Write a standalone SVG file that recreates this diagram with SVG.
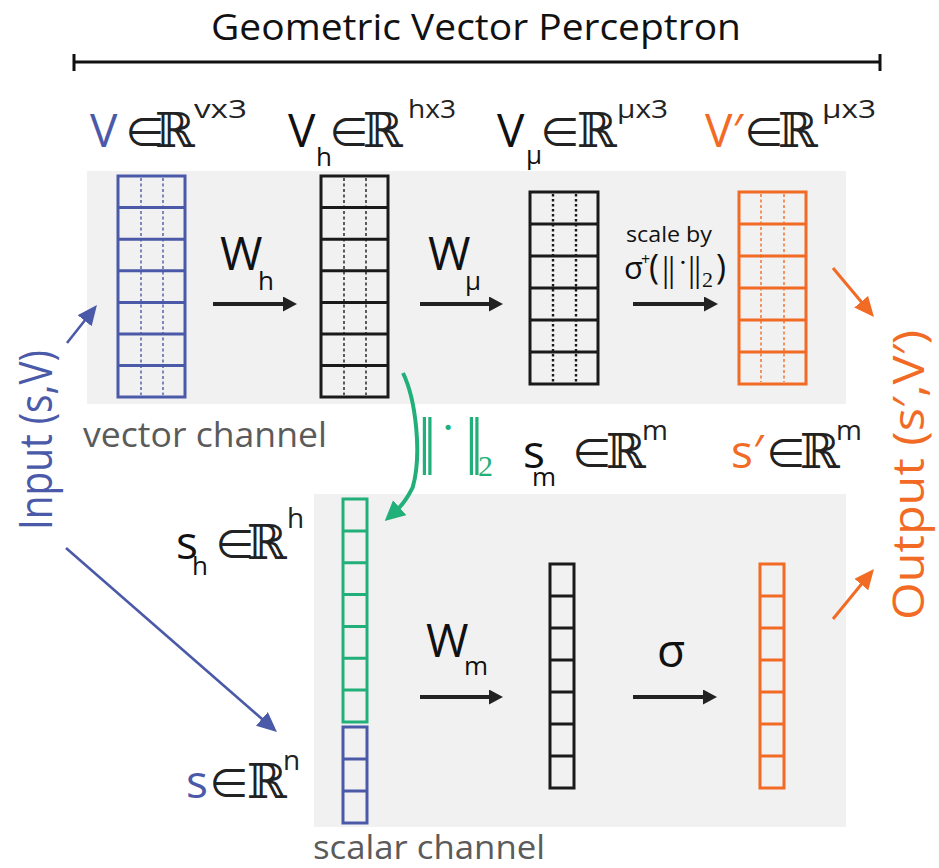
<svg xmlns="http://www.w3.org/2000/svg" width="939" height="868" viewBox="0 0 939 868">
<defs>
<style>
.t{font-family:"Open Sans","Liberation Sans",sans-serif;}
.m{font-family:"Liberation Serif","DejaVu Serif",serif;}
.r{font-family:"DejaVu Serif","Liberation Serif",serif;}
.e{font-family:"Noto Sans CJK JP","DejaVu Sans",sans-serif;font-size:42px;fill:#222;}
.bg{fill:#f1f1f1;}
.ln{fill:none;stroke-width:3;}
.dot{fill:none;stroke-width:1.4;stroke-dasharray:3 2.5;}
.dotb{fill:none;stroke-width:2.4;stroke-dasharray:2.5 2.5;}
.blue{stroke:#4b5aa8;}
.blk{stroke:#1a1a1a;}
.org{stroke:#f26b25;}
.grn{stroke:#22b07a;}
.big{font-size:46px;}
.sup{font-size:26px;}
.arr{fill:none;stroke:#222;stroke-width:4;marker-end:url(#ab);}
</style>
<marker id="ab" markerUnits="userSpaceOnUse" markerWidth="16" markerHeight="16" viewBox="0 0 16 16" refX="4" refY="7.5" orient="auto"><path d="M0,0 L14,7.5 L0,15 Z" fill="#222"/></marker>
<marker id="abl" markerUnits="userSpaceOnUse" markerWidth="22" markerHeight="20" viewBox="0 0 22 20" refX="6" refY="9" orient="auto"><path d="M0,0 L20,9 L0,18 Z" fill="#4b5aa8"/></marker>
<marker id="aor" markerUnits="userSpaceOnUse" markerWidth="22" markerHeight="20" viewBox="0 0 22 20" refX="6" refY="9" orient="auto"><path d="M0,0 L20,9 L0,18 Z" fill="#f26b25"/></marker>
<marker id="agr" markerUnits="userSpaceOnUse" markerWidth="22" markerHeight="22" viewBox="0 0 22 22" refX="6" refY="10" orient="auto"><path d="M0,0 L20,10 L0,20 Z" fill="#22b07a"/></marker>
</defs>
<rect width="939" height="868" fill="#ffffff"/>

<g id="title">
<text class="t" x="476" y="40" font-size="37" text-anchor="middle" fill="#111" textLength="530" lengthAdjust="spacingAndGlyphs">Geometric Vector Perceptron</text>
<path d="M74,62 H880 M74,54 V71 M880,54 V71" stroke="#111" stroke-width="3" fill="none"/>
</g>

<g id="panels">
<rect class="bg" x="87" y="171" width="759" height="233"/>
<rect class="bg" x="314" y="494" width="532" height="333"/>
<text class="t" x="83" y="447" font-size="34" fill="#5b5b5b" textLength="244" lengthAdjust="spacingAndGlyphs">vector channel</text>
<text class="t" x="313" y="859" font-size="32" fill="#5b5b5b" textLength="232" lengthAdjust="spacingAndGlyphs">scalar channel</text>
</g>

<g id="V">
<rect class="ln blue" x="118" y="176" width="67" height="221"/>
<path class="ln blue" d="M118,207.6H185M118,239.2H185M118,270.8H185M118,302.4H185M118,334H185M118,365.6H185"/>
<path class="dot blue" d="M141,178V395M163,178V395"/>
<text x="90" y="147" class="t big" fill="#4b5aa8">V</text>
<text x="124" y="148" class="e">∈</text>
<text x="155" y="147" class="r" font-size="48" fill="#222">ℝ</text>
<text x="194" y="118" class="t sup" fill="#222" textLength="53" lengthAdjust="spacingAndGlyphs">vx3</text>
</g>

<g id="Vh">
<rect class="ln blk" x="321" y="176" width="67" height="221"/>
<path class="ln blk" d="M321,207.6H388M321,239.2H388M321,270.8H388M321,302.4H388M321,334H388M321,365.6H388"/>
<path class="dot blk" d="M344,178V395M366,178V395"/>
<text x="288" y="147" class="t big" fill="#111">V</text>
<text x="316" y="166" class="t sup" fill="#111">h</text>
<text x="328" y="148" class="e">∈</text>
<text x="363" y="147" class="r" font-size="48" fill="#222">ℝ</text>
<text x="408" y="118" class="t sup" fill="#222" textLength="48" lengthAdjust="spacingAndGlyphs">hx3</text>
</g>

<g id="Vmu">
<rect class="ln blk" x="530" y="192" width="68" height="192"/>
<path class="ln blk" d="M530,224H598M530,256H598M530,288H598M530,320H598M530,352H598"/>
<path class="dotb blk" d="M553,194V382M576,194V382"/>
<text x="497" y="147" class="t big" fill="#111">V</text>
<text x="526" y="164" class="t sup" fill="#111">μ</text>
<text x="539" y="148" class="e">∈</text>
<text x="577" y="147" class="r" font-size="48" fill="#222">ℝ</text>
<text x="617" y="118" class="t sup" fill="#222" textLength="51" lengthAdjust="spacingAndGlyphs">μx3</text>
</g>

<g id="Vprime">
<rect class="ln org" x="739" y="192" width="67" height="192"/>
<path class="ln org" d="M739,224H806M739,256H806M739,288H806M739,320H806M739,352H806"/>
<path class="dot org" d="M761,194V382M784,194V382"/>
<text x="705" y="147" class="t big" fill="#f26b25">V′</text>
<text x="743" y="148" class="e">∈</text>
<text x="778" y="147" class="r" font-size="48" fill="#222">ℝ</text>
<text x="822" y="118" class="t sup" fill="#222" textLength="54" lengthAdjust="spacingAndGlyphs">μx3</text>
</g>

<g id="sh">
<rect class="ln grn" x="343" y="499" width="24" height="223"/>
<path class="ln grn" d="M343,530.9H367M343,562.7H367M343,594.6H367M343,626.4H367M343,658.3H367M343,690.1H367"/>
<text x="176" y="559" class="t big" fill="#111">s</text>
<text x="192" y="575" class="t sup" fill="#111">h</text>
<text x="214" y="560" class="e">∈</text>
<text x="247" y="559" class="r" font-size="48" fill="#222">ℝ</text>
<text x="287" y="528" class="t" font-size="28" fill="#222">h</text>
</g>

<g id="s">
<rect class="ln blue" x="343" y="727" width="24" height="96"/>
<path class="ln blue" d="M343,759H367M343,791H367"/>
<text x="186" y="798" class="t big" fill="#4b5aa8">s</text>
<text x="208" y="799" class="e">∈</text>
<text x="247" y="798" class="r" font-size="48" fill="#222">ℝ</text>
<text x="283" y="770" class="t" font-size="28" fill="#222">n</text>
</g>

<g id="sm">
<rect class="ln blk" x="550" y="564" width="24" height="224"/>
<path class="ln blk" d="M550,596H574M550,628H574M550,660H574M550,692H574M550,724H574M550,756H574"/>
<text x="523" y="468" class="t big" fill="#111">s</text>
<text x="532" y="486" class="t sup" fill="#111">m</text>
<text x="571" y="469" class="e">∈</text>
<text x="606" y="468" class="r" font-size="48" fill="#222">ℝ</text>
<text x="642" y="440" class="t" font-size="28" fill="#222">m</text>
</g>

<g id="sprime">
<rect class="ln org" x="760" y="564" width="24" height="224"/>
<path class="ln org" d="M760,596H784M760,628H784M760,660H784M760,692H784M760,724H784M760,756H784"/>
<text x="731" y="468" class="t big" fill="#f26b25">s′</text>
<text x="765" y="469" class="e">∈</text>
<text x="800" y="468" class="r" font-size="48" fill="#222">ℝ</text>
<text x="836" y="440" class="t" font-size="28" fill="#222">m</text>
</g>

<g id="input">
<text class="t" transform="translate(52,440) rotate(-90)" font-size="46" text-anchor="middle" fill="#4b5aa8" textLength="180" lengthAdjust="spacingAndGlyphs">Input (s,V)</text>
</g>
<g id="output">
<text class="t" transform="translate(924,475) rotate(-90)" font-size="43" text-anchor="middle" fill="#f26b25" textLength="290" lengthAdjust="spacingAndGlyphs">Output (s′,V′)</text>
</g>

<g id="connectors">
<line class="arr" x1="213" y1="304" x2="287" y2="304"/>
<line class="arr" x1="420" y1="304" x2="493" y2="304"/>
<line class="arr" x1="633" y1="304" x2="708" y2="304"/>
<line class="arr" x1="420" y1="697" x2="493" y2="697"/>
<line class="arr" x1="633" y1="697" x2="707" y2="697"/>
<line x1="67" y1="343" x2="88.3" y2="316" stroke="#4b5aa8" stroke-width="2.6" marker-end="url(#abl)"/>
<line x1="66" y1="548" x2="266.4" y2="722.8" stroke="#4b5aa8" stroke-width="2.6" marker-end="url(#abl)"/>
<line x1="833" y1="268" x2="865" y2="306.3" stroke="#f26b25" stroke-width="3" marker-end="url(#aor)"/>
<line x1="833" y1="619" x2="865.1" y2="579.8" stroke="#f26b25" stroke-width="3" marker-end="url(#aor)"/>
<path d="M403,373 C416,400 422,455 412.7,487.4 Q405,503 395.2,511.7" fill="none" stroke="#22b07a" stroke-width="4" marker-end="url(#agr)"/>
</g>

<g id="labels">
<text x="220" y="270" class="t big" fill="#111">W</text>
<text x="258" y="290" class="t" font-size="26" fill="#111">h</text>
<text x="428" y="270" class="t big" fill="#111">W</text>
<text x="465" y="290" class="t" font-size="26" fill="#111">μ</text>
<text x="426" y="657" class="t big" fill="#111">W</text>
<text x="464" y="675" class="t" font-size="26" fill="#111">m</text>
<text x="657" y="667" class="t big" fill="#111">σ</text>
<text x="626" y="242" class="t" font-size="22" fill="#111" textLength="86" lengthAdjust="spacingAndGlyphs">scale by</text>
<text class="t" font-size="31" fill="#111" x="624" y="279">σ</text>
<text class="t" font-size="16" fill="#111" x="641" y="265">+</text>
<text class="t" font-size="34" fill="#111" x="649" y="279">(</text>
<text class="m" font-size="36" fill="#111" y="281"><tspan x="662">|</tspan><tspan x="668">|</tspan><tspan x="688">|</tspan><tspan x="694">|</tspan></text>
<text class="m" font-size="28" fill="#111" x="683" y="272" text-anchor="middle">·</text>
<text class="m" font-size="22" fill="#111" x="702" y="287">2</text>
<text class="t" font-size="34" fill="#111" x="716" y="279">)</text>
<g fill="#22b07a">
<text class="m" font-size="64" y="461"><tspan x="418">|</tspan><tspan x="423.5">|</tspan><tspan x="465">|</tspan><tspan x="470.5">|</tspan></text>
<text class="m" font-size="44" x="448" y="442" text-anchor="middle">·</text>
<text class="m" font-size="30" x="478" y="476">2</text>
</g>
</g>
</svg>
